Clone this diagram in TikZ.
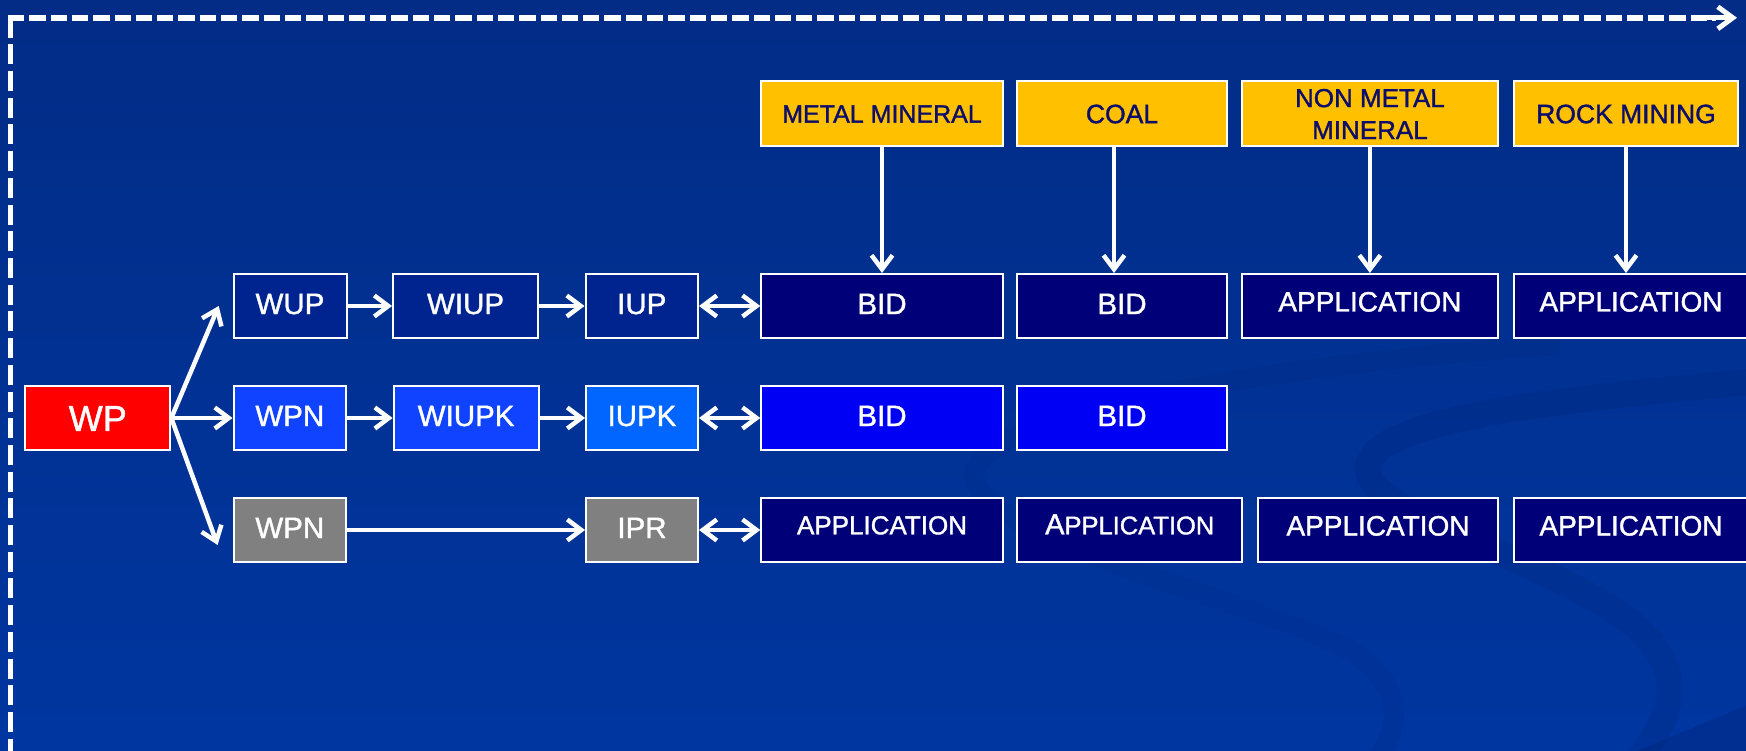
\documentclass[tikz,border=0pt]{standalone}
\usepackage{fontspec}
\setmainfont{Liberation Sans}[FakeBold=1.3]
\usetikzlibrary{arrows.meta,calc}
\definecolor{bgtop}{HTML}{022C86}
\definecolor{bgbot}{HTML}{0036A0}
\definecolor{rowA}{HTML}{00248F}
\definecolor{navyb}{HTML}{000078}
\definecolor{rowB}{HTML}{0F43FF}
\definecolor{iupkc}{HTML}{0066FF}
\definecolor{bidblue}{HTML}{0000F5}
\definecolor{grayb}{HTML}{808080}
\definecolor{yel}{HTML}{FFC000}
\definecolor{ytext}{HTML}{0D0D6B}
\definecolor{swirl}{HTML}{001A60}
\begin{document}
\begin{tikzpicture}[x=1pt,y=-1pt,
  bx/.style={draw=white, line width=2pt, inner sep=0pt, text=white, minimum height=64pt, align=center},
  lab/.style={font=\fontsize{29.5}{34}\selectfont, text height=21.1pt, text depth=5pt},
  bigl/.style={font=\fontsize{36}{40}\selectfont, text height=25.8pt, text depth=0pt},
  appl/.style={font=\fontsize{28}{34}\selectfont, text height=20pt, text depth=9pt},
  appls/.style={font=\fontsize{26}{32}\selectfont, text height=18.6pt, text depth=10pt},
  ylab/.style={font=\fontsize{26.5}{32}\selectfont, text=ytext, minimum height=65pt},
  arr/.style={draw=white, line width=4.5pt, -{Straight Barb[length=14pt,width=21pt]}},
  darr/.style={draw=white, line width=4.5pt, {Straight Barb[length=14pt,width=21pt]}-{Straight Barb[length=14pt,width=21pt]}},
  frame/.style={draw=white, line width=5.5pt}
]
\useasboundingbox (0,0) rectangle (1746,751);
\clip (0,0) rectangle (1746,751);
\shade[top color=bgtop,bottom color=bgbot] (0,0) rectangle (1746,751);

% background swooshes
\draw[swirl, line width=26pt, opacity=0.13]
  (1770,380) .. controls (1550,400) and (1365,420) .. (1368,470)
  .. controls (1372,520) and (1560,560) .. (1640,630)
  .. controls (1690,680) and (1670,720) .. (1630,770);
\draw[swirl, line width=20pt, opacity=0.08]
  (1560,345) .. controls (1250,365) and (960,420) .. (975,480)
  .. controls (990,540) and (1250,600) .. (1350,650)
  .. controls (1410,690) and (1400,730) .. (1370,770);
\fill[swirl, opacity=0.22] (1615,760) -- (1760,700) -- (1760,760) -- cycle;

% dashed frame
\coordinate (f0) at (10.3,17.7);
\coordinate (f1) at (10.3,760);
\coordinate (h0) at (8,17.8);
\coordinate (h1) at (1716,17.8);
\coordinate (h2) at (1706,17.8);
\coordinate (h3) at (1737,17.8);
\draw[frame, dash pattern=on 20pt off 6.7pt] (f0) -- (f1);
\draw[frame, dash pattern=on 16.3pt off 5pt] (h0) -- (h1);
\draw[draw=white, line width=5pt, -{Straight Barb[length=15pt,width=22pt]}] (h2) -- (h3);

% yellow header boxes
\node[bx, fill=yel, ylab, minimum width=241.4pt, font=\fontsize{25}{30}\selectfont] (ym) at (882,114) {METAL MINERAL};
\node[bx, fill=yel, ylab, minimum width=209.4pt] (yc) at (1122,114) {COAL};
\node[bx, fill=yel, ylab, minimum width=256.3pt, font=\fontsize{26}{32}\selectfont] (yn) at (1369.9,114) {NON METAL\\MINERAL};
\node[bx, fill=yel, ylab, minimum width=224pt] (yr) at (1626,114) {ROCK MINING};

% row 1
\node[bx, fill=rowA, lab, minimum width=113pt] (wup) at (290,306) {WUP};
\node[bx, fill=rowA, lab, minimum width=145pt] (wiup) at (465.5,306) {WIUP};
\node[bx, fill=rowA, lab, minimum width=112.5pt] (iup) at (641.8,306) {IUP};
\node[bx, fill=navyb, lab, minimum width=241.4pt] (b1) at (882,306) {BID};
\node[bx, fill=navyb, lab, minimum width=209.4pt] (b2) at (1122,306) {BID};
\node[bx, fill=navyb, appl, minimum width=256.3pt] (a1) at (1369.9,306) {APPLICATION};
\node[bx, fill=navyb, appl, minimum width=234pt] (a2) at (1631,306) {APPLICATION};

% row 2
\node[bx, fill=red, bigl, minimum width=145pt] (wp) at (97.8,418) {WP};
\node[bx, fill=rowB, lab, minimum width=112.5pt] (wpn) at (289.8,418) {WPN};
\node[bx, fill=rowB, lab, minimum width=145pt] (wiupk) at (466.1,418) {WIUPK};
\node[bx, fill=iupkc, lab, minimum width=112pt] (iupk) at (642,418) {IUPK};
\node[bx, fill=bidblue, lab, minimum width=241.4pt] (b3) at (882,418) {BID};
\node[bx, fill=bidblue, lab, minimum width=209.4pt] (b4) at (1122,418) {BID};

% row 3
\node[bx, fill=grayb, lab, minimum width=112.5pt] (wpn3) at (289.8,530) {WPN};
\node[bx, fill=grayb, lab, minimum width=112pt] (ipr) at (642,530) {IPR};
\node[bx, fill=navyb, appls, minimum width=241.4pt] (c1) at (882,530) {APPLICATION};
\node[bx, fill=navyb, appls, minimum width=224.6pt] (c2) at (1129.7,530) {{\fontsize{29}{34}\selectfont A}{\fontsize{25.5}{30}\selectfont PPLICATION}};
\node[bx, fill=navyb, appl, minimum width=240pt] (c3) at (1378,530) {APPLICATION};
\node[bx, fill=navyb, appl, minimum width=234pt] (c4) at (1631,530) {APPLICATION};

% fan from WP
\coordinate (t1) at (218.7,306);
\coordinate (t3) at (217.6,545);
\draw[arr] (wp.east) -- (t1);
\draw[arr] (wp.east) -- (wpn.west);
\draw[arr] (wp.east) -- (t3);

% row connectors
\draw[arr] (wup) -- (wiup);
\draw[arr] (wiup) -- (iup);
\draw[darr] (iup) -- (b1);
\draw[arr] (wpn) -- (wiupk);
\draw[arr] (wiupk) -- (iupk);
\draw[darr] (iupk) -- (b3);
\draw[arr] (wpn3) -- (ipr);
\draw[darr] (ipr) -- (c1);

% vertical connectors
\draw[arr] (ym.south) -- (b1.north);
\draw[arr] ([xshift=-8pt]yc.south) -- ([xshift=-8pt]b2.north);
\draw[arr] (yn.south) -- (a1.north);
\draw[arr] (yr.south) -- (yr.south |- a2.north);
\end{tikzpicture}
\end{document}
